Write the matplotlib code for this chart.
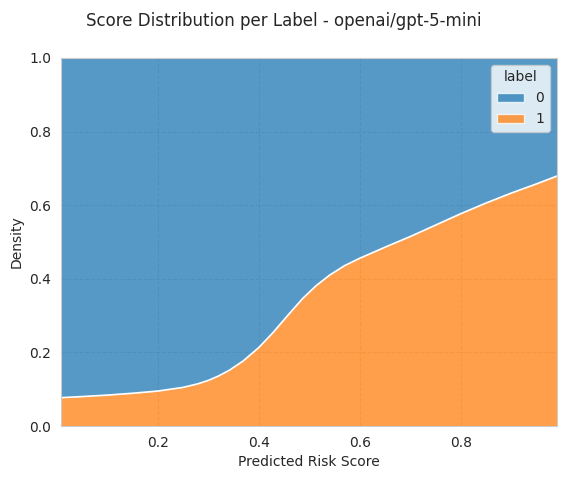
import matplotlib
matplotlib.use("Agg")
import matplotlib.pyplot as plt
import seaborn as sns
from matplotlib.patches import Patch

sns.set_style("whitegrid")

# boundary between label 1 (bottom) and label 0 (top)
score = [0.008, 0.05, 0.10, 0.15, 0.20, 0.25, 0.28, 0.30, 0.32, 0.342, 0.369, 0.40, 0.428,
         0.458, 0.487, 0.513, 0.54, 0.57, 0.60, 0.62, 0.65, 0.70, 0.75, 0.80, 0.85,
         0.90, 0.95, 0.99]
share_1 = [0.077, 0.080, 0.084, 0.089, 0.095, 0.105, 0.115, 0.124, 0.136, 0.152, 0.177, 0.2135, 0.254,
           0.302, 0.347, 0.381, 0.410, 0.436, 0.456, 0.468, 0.486, 0.515, 0.546, 0.577, 0.606,
           0.633, 0.658, 0.679]
labels = ["0", "1"]
colors = ["#1f77b4", "#ff7f0e"]

fig = plt.figure(figsize=(5.67, 4.8), dpi=100)
ax = fig.add_axes([0.1076, 0.1125, 0.8744, 0.7667])

ax.fill_between(score, share_1, 1.0, color=colors[0], alpha=0.75, linewidth=0, zorder=1)
ax.fill_between(score, 0.0, share_1, color=colors[1], alpha=0.75, linewidth=0, zorder=1)
ax.plot(score, share_1, color="white", linewidth=1.2, zorder=2)

ax.set_xlim(score[0], score[-1])
ax.set_ylim(0, 1)
ax.set_xticks([0.2, 0.4, 0.6, 0.8])
ax.set_yticks([0.0, 0.2, 0.4, 0.6, 0.8, 1.0])
ax.set_axisbelow(True)
ax.grid(True, linestyle="--", alpha=0.7)
ax.set_xlabel("Predicted Risk Score")
ax.set_ylabel("Density")

handles = [Patch(facecolor=c, alpha=0.75, edgecolor="white") for c in colors]
ax.legend(handles, labels, title="label", loc="upper right")

fig.suptitle("Score Distribution per Label - openai/gpt-5-mini", y=0.975)

plt.savefig("out.png", dpi=100)
